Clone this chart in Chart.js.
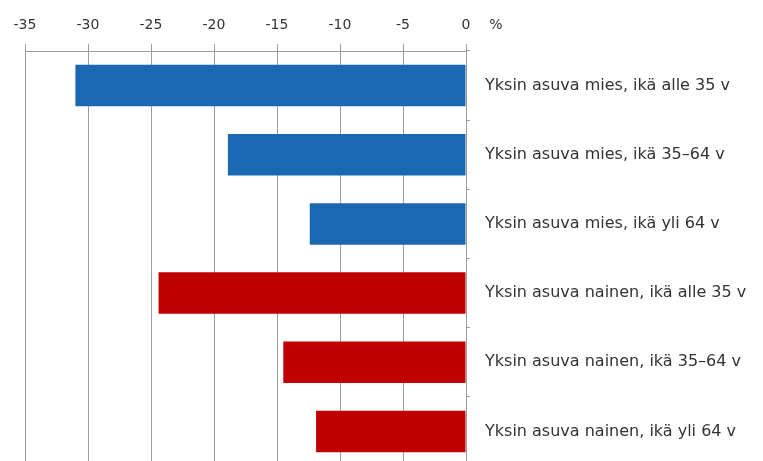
<!DOCTYPE html>
<html>
<head>
<meta charset="utf-8">
<script src="https://cdn.jsdelivr.net/npm/chart.js@4"></script>
<style>
html,body{margin:0;padding:0;background:#fff;overflow:hidden;}
canvas{display:block;}
</style>
</head>
<body>
<canvas id="c" width="763" height="466"></canvas>
<script>
const categories = [
  "Yksin asuva mies, ikä alle 35 v",
  "Yksin asuva mies, ikä 35–64 v",
  "Yksin asuva mies, ikä yli 64 v",
  "Yksin asuva nainen, ikä alle 35 v",
  "Yksin asuva nainen, ikä 35–64 v",
  "Yksin asuva nainen, ikä yli 64 v"
];
const values = [-31.0, -18.9, -12.4, -24.4, -14.5, -11.9];
const barColors = ["#1B68B2","#1B68B2","#1B68B2","#C00000","#C00000","#C00000"];
const xMin = -35, xMax = 0, xStep = 5;
const unitLabel = "%";

const FONT = "DejaVu Sans";
const TEXT = "#333333";
const GRID = "#9c9c9c";

const unitPlugin = {
  id: 'unit',
  afterDraw(chart) {
    const ctx = chart.ctx, xs = chart.scales.x;
    ctx.save();
    ctx.font = "14px '" + FONT + "'";
    ctx.fillStyle = TEXT;
    ctx.textAlign = 'center';
    ctx.textBaseline = 'middle';
    ctx.fillText(unitLabel, xs.getPixelForValue(xMax) + 30, 25);
    ctx.restore();
  }
};

new Chart(document.getElementById('c'), {
  type: 'bar',
  data: {
    labels: categories,
    datasets: [{
      data: values,
      backgroundColor: barColors,
      borderWidth: 0,
      barPercentage: 0.6,
      categoryPercentage: 1.0
    }]
  },
  options: {
    indexAxis: 'y',
    responsive: false,
    animation: false,
    events: [],
    layout: { padding: { left: 25, right: 0, top: 0, bottom: 0 } },
    plugins: { legend: { display: false }, tooltip: { enabled: false } },
    scales: {
      x: {
        position: 'top',
        min: xMin, max: xMax,
        ticks: { stepSize: xStep, color: TEXT, font: { family: FONT, size: 14 }, padding: 10 },
        grid: { color: GRID, lineWidth: 1, tickLength: 7, drawTicks: true },
        border: { color: GRID, width: 1 },
        afterFit(s) { s.height = 51; s.paddingLeft = 0; s.paddingRight = 0; }
      },
      y: {
        position: 'right',
        ticks: { color: TEXT, font: { family: FONT, size: 16 }, padding: 15, crossAlign: 'near' },
        grid: { display: true, drawOnChartArea: false, drawTicks: true, tickLength: 4, color: GRID, offset: true },
        border: { color: GRID, width: 1 },
        afterFit(s) { s.width = 297; s.paddingTop = 0; s.paddingBottom = 0; }
      }
    }
  },
  plugins: [unitPlugin]
});
</script>
</body>
</html>
